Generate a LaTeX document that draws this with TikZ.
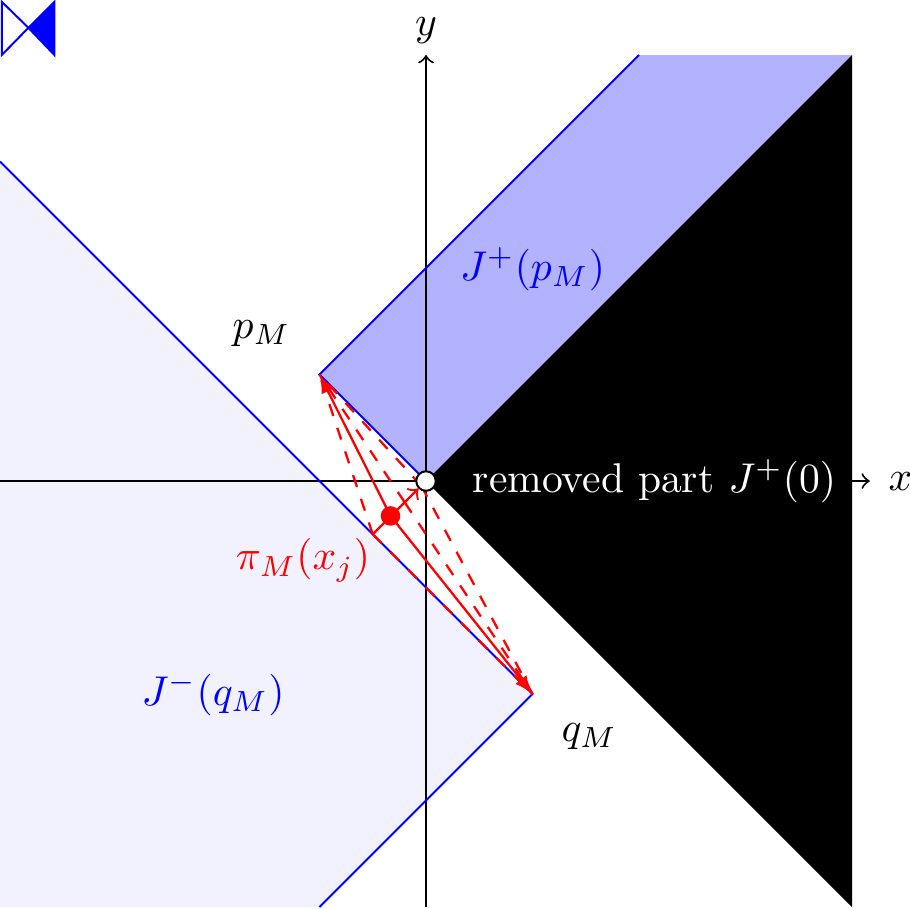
\documentclass[tikz,border=0pt]{standalone}
\begin{document}
\begin{tikzpicture}[
  line width=0.48pt,
  boundary/.style={blue},
  axis/.style={black,->},
  rsolid/.style={red,line width=0.55pt,-latex},
  rplain/.style={red,line width=0.55pt,->},
  rdash/.style={red,line width=0.55pt,dashed},
  dotnode/.style={circle,inner sep=0pt,minimum size=0.165cm},
]
\useasboundingbox (-3.6,-3.61) rectangle (4.09,4.065);
% regions
\fill[blue!5] (-3.6,2.7) -- (0.9,-1.8) -- (-0.9,-3.6) -- (-3.6,-3.6) -- cycle;
\fill[blue!30] (-0.9,0.9) -- (1.8,3.6) -- (3.6,3.6) -- (0,0) -- cycle;
% axes
\coordinate (xs) at (-3.6,0);
\coordinate (xe) at (3.75,0);
\coordinate (ys) at (0,-3.6);
\coordinate (ye) at (0,3.6);
\draw[axis] (xs) -- (xe);
\draw[axis] (ys) -- (ye);
\fill[black] (0,0) -- (3.6,3.6) -- (3.6,-3.6) -- cycle;
% points
\coordinate (p) at (-0.9,0.9);
\coordinate (q) at (0.9,-1.8);
\coordinate (a) at (-0.45,-0.45);
\coordinate (b) at (-0.18,-0.18);
\coordinate (c) at (-0.04,-0.04);
\coordinate (o) at (0,0);
\coordinate (l) at (-3.6,2.7);
\coordinate (u) at (1.8,3.6);
\coordinate (d) at (-0.9,-3.6);
% boundaries
\draw[boundary] (l) -- (q) -- (d);
\draw[boundary] (u) -- (p) -- (o);
% red segments
\node[dotnode,fill=red] (x) at (-0.3,-0.295) {};
\draw[rdash] (a) -- (p);
\draw[rdash] (b) -- (p);
\draw[rdash] (c) -- (p);
\draw[rdash] (a) -- (q);
\draw[rdash] (b) -- (q);
\draw[rdash] (c) -- (q);
\draw[rsolid] (x.center) -- (p);
\draw[rsolid] (x.center) -- (q);
\node[dotnode,draw=black,fill=white] (origin) at (o) {};
\draw[rplain] (a) -- (origin);
% labels
\node (ylab) at (0,3.81) {$y$};
\node (xlab) at (4.01,0) {$x$};
\node[text=white] (rem) at (1.93,0) {removed part $J^{+}(0)$};
\node (pl) at (-1.39,1.25) {$p_M$};
\node (ql) at (1.38,-2.16) {$q_M$};
\node[text=blue] (jp) at (0.9,1.79) {$J^{+}(p_M)$};
\node[text=blue] (jm) at (-1.80,-1.80) {$J^{-}(q_M)$};
\node[text=red] (pi) at (-1.04,-0.67) {$\pi_M(x_j)$};
% bow-tie mark
\draw[blue] (-3.585,4.05) -- (-3.36,3.83) -- (-3.585,3.6) -- cycle;
\filldraw[blue] (-3.14,4.05) -- (-3.36,3.83) -- (-3.14,3.6) -- cycle;
\end{tikzpicture}
\end{document}
